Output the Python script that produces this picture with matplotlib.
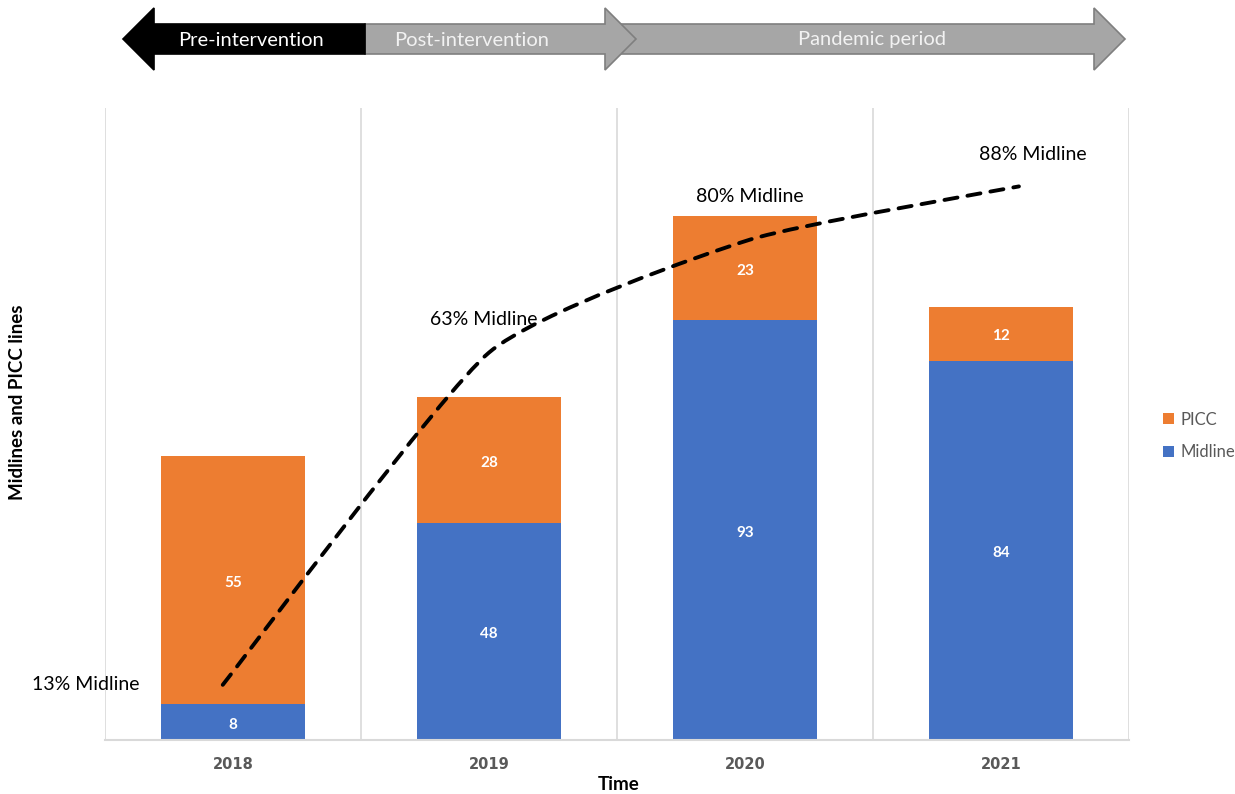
import matplotlib
matplotlib.use("Agg")
import matplotlib.pyplot as plt
from matplotlib.patches import Polygon, PathPatch
from matplotlib.path import Path
import numpy as np

plt.rcParams['font.family'] = ['Lato', 'DejaVu Sans']

years = ["2018", "2019", "2020", "2021"]
midline = [8, 48, 93, 84]
picc = [55, 28, 23, 12]
pct_midline = [13, 63, 80, 88]
pct_labels = ["13% Midline", "63% Midline", "80% Midline", "88% Midline"]
periods = ["Pre-intervention", "Post-intervention", "Pandemic period"]

ORANGE = "#ED7D31"
BLUE = "#4472C4"
GRID = "#D9D9D9"

W, H = 1235, 794
fig = plt.figure(figsize=(W / 100, H / 100), dpi=100)

def fx(px):
    return px / W

def fy(py):
    return 1 - py / H

ax = fig.add_axes([fx(105), fy(740), fx(1129) - fx(105), fy(108) - fy(740)])
x = np.arange(len(years))
ax.bar(x, midline, width=0.56, color=BLUE, zorder=2, label="Midline")
ax.bar(x, picc, width=0.56, bottom=midline, color=ORANGE, zorder=2, label="PICC")
for i in range(len(years)):
    ax.annotate(str(midline[i]), (x[i], midline[i] / 2), xytext=(0, -2),
                textcoords="offset points", ha="center", va="center",
                color="white", fontsize=11, fontweight="bold", zorder=3)
    ax.annotate(str(picc[i]), (x[i], midline[i] + picc[i] / 2), xytext=(0, -2),
                textcoords="offset points", ha="center", va="center",
                color="white", fontsize=11, fontweight="bold", zorder=3)

ax.set_xlim(-0.5, 3.5)
ax.set_ylim(0, 140)
for s in ["top", "right", "left"]:
    ax.spines[s].set_visible(False)
ax.spines["bottom"].set_color(GRID)
ax.spines["bottom"].set_linewidth(1.5)
for gx in [-0.5, 0.5, 1.5, 2.5, 3.5]:
    ax.axvline(gx, color=GRID, lw=1.2, zorder=1)
ax.set_yticks([])
ax.set_xticks(x)
ax.set_xticklabels(years)
ax.tick_params(axis="x", length=0, pad=12)
for t in ax.get_xticklabels():
    t.set_fontweight("bold")
    t.set_color("#595959")
    t.set_fontsize(10.5)
    t.set_fontfamily(["DejaVu Sans"])

fig.text(fx(619), fy(784), "Time", ha="center", va="center", fontsize=13.5,
         fontweight="bold")

# secondary axis for percentage line
ax2 = ax.twinx()
ax2.set_ylim(4.7, 99.8)
ax2.axis("off")
line_dx = [-0.04, 0.0, 0.02, 0.07]
lx = x + np.array(line_dx)

# lightly smoothed curve (Catmull-Rom -> Bezier) in axes-pixel space
def to_pix(xd, yd):
    return np.column_stack([(xd + 0.5) / 4 * 1024, (yd - 4.7) / 95.1 * 632])

P = to_pix(lx, np.array(pct_midline, dtype=float))
verts = [P[0]]
codes = [Path.MOVETO]
n = len(P)
k = 0.09
for i in range(n - 1):
    p0 = P[i - 1] if i > 0 else P[i]
    p1 = P[i]
    p2 = P[i + 1]
    p3 = P[i + 2] if i + 2 < n else P[i + 1]
    c1 = p1 + (p2 - p0) * k
    c2 = p2 - (p3 - p1) * k
    verts += [c1, c2, p2]
    codes += [Path.CURVE4] * 3
verts = np.array(verts)
verts[:, 0] /= 1024
verts[:, 1] /= 632
path = Path(verts, codes)
patch = PathPatch(path, transform=ax.transAxes, fill=False, edgecolor="black",
                  lw=2.8, linestyle=(0, (3.4, 2.6)), capstyle="round", zorder=4)
ax2.add_patch(patch)

offs = [(-60, 0, "right", "center"), (-4, 24, "center", "center"),
        (0, 31, "center", "center"), (10, 23, "center", "center")]
for i in range(len(years)):
    dx, dy, ha, va = offs[i]
    ax2.annotate(pct_labels[i], (lx[i], pct_midline[i]), xytext=(dx, dy),
                 textcoords="offset points", ha=ha, va=va, fontsize=14,
                 color="black", zorder=5)

# legend
h, l = ax.get_legend_handles_labels()
leg = fig.legend(h[::-1], l[::-1], loc="center left", bbox_to_anchor=(fx(1148), fy(436)),
                 frameon=False, fontsize=12, handlelength=0.65, handleheight=0.65,
                 handletextpad=0.4, labelspacing=1.0)
for t in leg.get_texts():
    t.set_color("#595959")

fig.text(fx(18), fy(402), "Midlines and PICC lines", rotation=90, ha="center",
         va="center", fontsize=13.5, fontweight="bold")

# top arrows
cy = 39
bh = 15
hh = 31

def arrow(x0, x1, head, direction, color, edge):
    if direction == "left":
        pts = [(x0, cy), (x0 + head, cy - hh), (x0 + head, cy - bh), (x1, cy - bh),
               (x1, cy + bh), (x0 + head, cy + bh), (x0 + head, cy + hh)]
    else:
        pts = [(x0, cy - bh), (x1 - head, cy - bh), (x1 - head, cy - hh), (x1, cy),
               (x1 - head, cy + hh), (x1 - head, cy + bh), (x0, cy + bh)]
    pts = [(fx(a), fy(b)) for a, b in pts]
    fig.patches.append(Polygon(pts, closed=True, facecolor=color, edgecolor=edge,
                               lw=1.2, transform=fig.transFigure))

arrow(608, 1125, 31, "right", "#A6A6A6", "#7F7F7F")
arrow(365, 636, 31, "right", "#A6A6A6", "#7F7F7F")
arrow(123, 365, 31, "left", "#000000", "#000000")

fig.text(fx(251), fy(40), periods[0], ha="center", va="center", color="white", fontsize=14.5)
fig.text(fx(472), fy(40), periods[1], ha="center", va="center", color="#F2F2F2", fontsize=14.5)
fig.text(fx(872), fy(40), periods[2], ha="center", va="center", color="#F2F2F2", fontsize=14.5)

fig.savefig("out.png", dpi=100)
